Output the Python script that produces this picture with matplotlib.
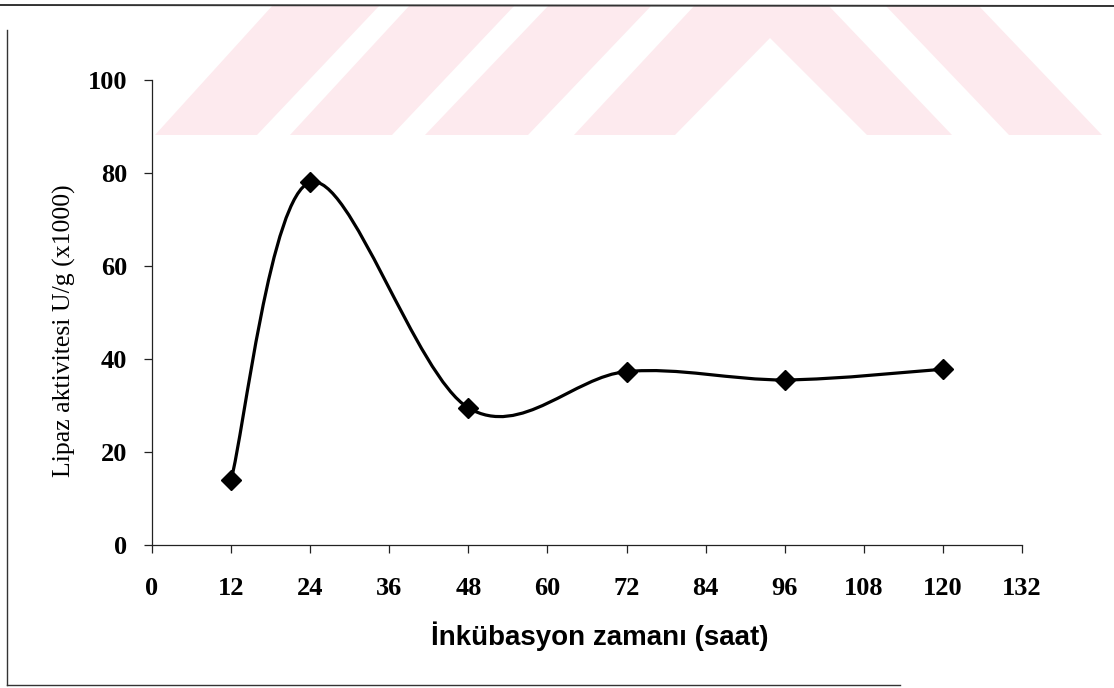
import numpy as np
import matplotlib
matplotlib.use("Agg")
import matplotlib.pyplot as plt
from matplotlib.path import Path
from matplotlib.patches import PathPatch, Polygon
from matplotlib.lines import Line2D

# data
hours = [12, 24, 48, 72, 96, 120]
activity = [14, 78, 29.5, 37.3, 35.5, 37.8]
x_ticks = [0, 12, 24, 36, 48, 60, 72, 84, 96, 108, 120, 132]
y_ticks = [0, 20, 40, 60, 80, 100]

W, H = 1114, 688


def px(x, y):
    # figure pixel (from top-left) -> figure fraction
    return (x / W, 1 - y / H)


def smooth_path(xs, ys):
    # Excel style smoothed line: catmull-rom segments as cubic beziers
    pts = np.column_stack([xs, ys]).astype(float)
    n = len(pts)
    verts = [pts[0]]
    codes = [Path.MOVETO]
    for i in range(n - 1):
        p0 = pts[i - 1] if i > 0 else pts[i]
        p1 = pts[i]
        p2 = pts[i + 1]
        p3 = pts[i + 2] if i + 2 < n else pts[i + 1]
        c1 = p1 + (p2 - p0) / 6.0
        c2 = p2 - (p3 - p1) / 6.0
        verts += [c1, c2, p2]
        codes += [Path.CURVE4] * 3
    return Path(verts, codes)


fig = plt.figure(figsize=(W / 100, H / 100), dpi=100)

# faint watermark from the scanned page
wm_color = "#fdeaee"
stripes = [
    [(155, 135), (257, 135), (380, 5), (273, 5)],
    [(290, 135), (392, 135), (515, 5), (410, 5)],
    [(425, 135), (528, 135), (652, 5), (549, 5)],
    [(574, 135), (675, 135), (770, 38), (867, 135), (952, 135), (828, 5), (695, 5)],
    [(1009, 135), (1102, 135), (978, 5), (885, 5)],
]
for s in stripes:
    fig.patches.append(Polygon([px(*p) for p in s], closed=True, facecolor=wm_color,
                               edgecolor="none", transform=fig.transFigure, zorder=0))

# page frame lines
frame = "#333333"
fig.add_artist(Line2D([0, 1], [px(0, 5)[1], px(0, 6)[1]], transform=fig.transFigure,
                      color=frame, lw=1.4))
fig.add_artist(Line2D([px(7, 0)[0]] * 2, [px(0, 30)[1], px(0, 685)[1]],
                      transform=fig.transFigure, color=frame, lw=1.0))
fig.add_artist(Line2D([px(7, 0)[0], px(900, 0)[0]], [px(0, 685)[1]] * 2,
                      transform=fig.transFigure, color=frame, lw=1.0))

ax = fig.add_axes([152 / W, 1 - 545 / H, (1022 - 152) / W, (545 - 80) / H])
ax.set_facecolor("none")

ax.add_patch(PathPatch(smooth_path(hours, activity), facecolor="none",
                       edgecolor="black", lw=2.3, zorder=3))
ax.plot(hours, activity, linestyle="none", marker="D", ms=10, color="black", zorder=4)

ax.set_xlim(0, 132)
ax.set_ylim(0, 100)
ax.set_xticks(x_ticks)
ax.set_yticks(y_ticks)

for side in ["top", "right"]:
    ax.spines[side].set_visible(False)
for side in ["left", "bottom"]:
    ax.spines[side].set_color("#222222")
    ax.spines[side].set_linewidth(0.9)

ax.tick_params(axis="both", direction="out", length=6, width=0.9, color="#222222")
ax.tick_params(axis="x", pad=17)
ax.tick_params(axis="y", pad=12)
for lab in ax.get_xticklabels() + ax.get_yticklabels():
    lab.set_fontfamily("Liberation Serif")
    lab.set_fontweight("bold")
    lab.set_fontsize(19)

fig.text(*px(600, 645), "İnkübasyon zamanı (saat)", ha="center", va="baseline",
         fontfamily="Liberation Sans", fontweight="bold", fontsize=20)
fig.text(*px(64, 331), "Lipaz aktivitesi U/g (x1000)", ha="center", va="center",
         rotation=90, fontfamily="Liberation Serif", fontsize=18.5)

fig.savefig("out.png", dpi=100)
